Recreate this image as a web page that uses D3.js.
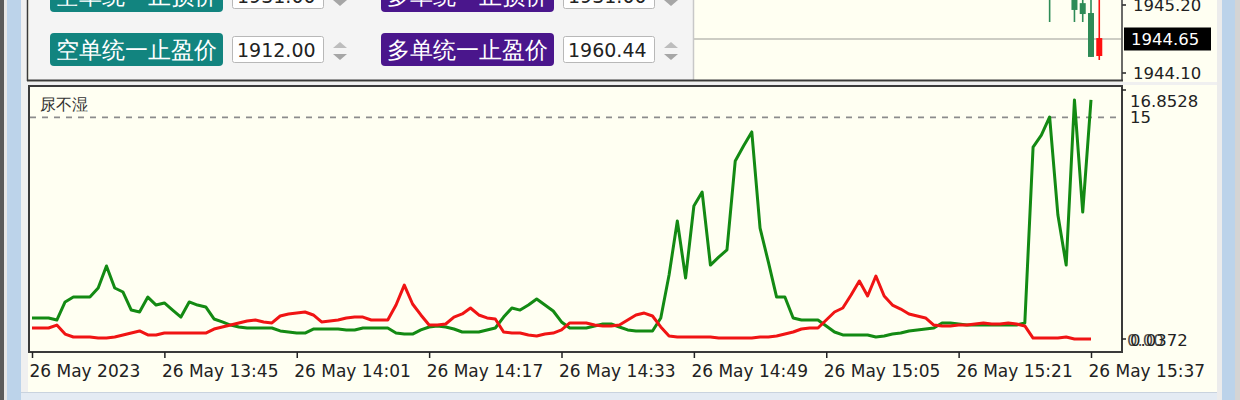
<!DOCTYPE html>
<html><head><meta charset="utf-8">
<script src="https://cdn.jsdelivr.net/npm/d3@7"></script>
<style>
html,body{margin:0;padding:0;background:#f0f0f0;overflow:hidden}
svg{display:block}
text{font-family:"DejaVu Sans",sans-serif}
</style></head><body>
<svg id="c" width="1240" height="400"></svg>
<script>
// ---------------- DATA ----------------
const startTime = new Date(2023, 4, 26, 13, 29);   // first bar (minute 0)
const greenValues = [
 1.46,1.46,1.46,1.32,2.54,2.87,2.87,2.87,3.48,4.97,
 3.48,3.21,1.99,1.86,2.87,2.33,2.47,1.99,1.52,2.54,
 2.33,2.20,1.39,1.19,0.98,0.85,0.78,0.78,0.78,0.78,
 0.58,0.51,0.44,0.44,0.71,0.71,0.71,0.71,0.65,0.65,
 0.78,0.78,0.78,0.78,0.44,0.37,0.37,0.65,0.85,0.92,
 0.85,0.71,0.51,0.51,0.51,0.65,0.78,1.52,2.13,1.99,
 2.33,2.74,2.33,1.93,1.19,0.78,0.78,0.78,0.92,1.05,
 1.05,0.85,0.65,0.58,0.58,0.58,1.46,4.36,8.01,4.16,
 9.02,9.96,5.03,5.57,6.05,12.06,13.07,14.02,7.53,5.24,
 2.87,2.87,1.46,1.32,1.32,1.32,0.92,0.51,0.31,0.31,
 0.31,0.31,0.17,0.24,0.37,0.44,0.58,0.65,0.71,0.78,
 1.12,1.12,1.05,0.98,0.98,0.98,0.98,0.98,0.98,0.98,
 1.12,13.00,13.81,15.03,8.41,5.03,16.18,8.61,16.18
];
const redValues = [
 0.78,0.78,0.78,0.98,0.37,0.17,0.17,0.17,0.10,0.10,
 0.17,0.31,0.44,0.58,0.31,0.31,0.44,0.44,0.44,0.44,
 0.44,0.44,0.71,0.85,0.98,1.12,1.25,1.32,1.19,1.12,
 1.59,1.73,1.79,1.86,1.66,1.19,1.25,1.32,1.46,1.52,
 1.52,1.32,1.32,1.32,2.33,3.68,2.40,1.66,0.98,0.98,
 1.05,1.52,1.73,2.13,1.66,1.46,1.39,0.51,0.44,0.44,
 0.31,0.24,0.37,0.44,0.65,1.12,1.12,1.12,0.98,0.92,
 0.92,0.98,1.32,1.66,1.79,1.59,0.85,0.24,0.17,0.17,
 0.17,0.17,0.17,0.10,0.10,0.10,0.10,0.10,0.17,0.17,
 0.24,0.37,0.51,0.71,0.78,0.78,1.32,1.86,2.13,3.01,
 3.95,2.94,4.29,2.94,2.33,2.06,1.73,1.59,1.46,0.98,
 0.92,0.92,0.98,0.98,1.05,1.12,1.05,1.05,1.12,1.05,
 0.92,0.10,0.10,0.10,0.10,0.17,0.0372,0.0372,0.0372
];
const tickMinutes = [0,16,32,48,64,80,96,112,128];
const tickLabels = ["26 May 2023","26 May 13:45","26 May 14:01","26 May 14:17",
  "26 May 14:33","26 May 14:49","26 May 15:05","26 May 15:21","26 May 15:37"];
const indicatorName = "尿不湿";
const levelValue = 15;
const subMax = 16.8528, subMin = 0.0372;
const subAxisLabels = ["16.8528","15","0.0372"];

// main chart candles (minute index, OHLC)
const candleMinutes = [123,124,125,126,127,128,129];
const candleOpen  = [1945.40,1945.45,1945.50,1945.12,1945.054,1944.36,1944.665];
const candleHigh  = [1945.50,1945.60,1945.60,1945.45,1945.35,1945.35,1945.35];
const candleLow   = [1944.925,1945.35,1945.40,1944.925,1944.925,1944.36,1944.31];
const candleClose = [1945.45,1945.55,1945.55,1945.40,1945.23,1945.07,1944.375];
const priceTickValues = [1945.20, 1944.10];
const priceTickLabels = ["1945.20","1944.10"];
const currentPrice = 1944.65;

// panel controls
const sellLabels = ["空单统一止损价","空单统一止盈价"];
const sellValues = ["1931.00","1912.00"];
const buyLabels  = ["多单统一止损价","多单统一止盈价"];
const buyValues  = ["1931.00","1960.44"];

// ---------------- DRAW ----------------
const svg = d3.select("#c");
const C = {bg:"#fffff2", frame:"#3a3a3a", green:"#138a13", red:"#f01414",
           teal:"#12847f", purple:"#4a168c", candleUp:"#2e8b57", candleDn:"#ff1010"};

const times = greenValues.map((d,i)=> new Date(startTime.getTime()+i*60000));
const x = d3.scaleTime()
  .domain([startTime, new Date(startTime.getTime()+128*60000)])
  .range([32, 1091]);
const xm = m => x(new Date(startTime.getTime()+m*60000));

// window background pieces
svg.append("rect").attr("x",0).attr("y",0).attr("width",1240).attr("height",400).attr("fill",C.bg);
// left frame
svg.append("rect").attr("x",0).attr("y",0).attr("width",4).attr("height",400).attr("fill","#5a5a5a");
svg.append("rect").attr("x",4).attr("y",0).attr("width",3).attr("height",400).attr("fill","#e6e6e6");
svg.append("rect").attr("x",7).attr("y",0).attr("width",14).attr("height",400).attr("fill","#bcd3ea");
svg.append("rect").attr("x",21).attr("y",0).attr("width",7).attr("height",400).attr("fill","#f0f0f0");
// right frame
svg.append("rect").attr("x",1217).attr("y",0).attr("width",5).attr("height",400).attr("fill","#ececec");
svg.append("rect").attr("x",1222).attr("y",0).attr("width",13).attr("height",400).attr("fill","#bcd3ea");
svg.append("rect").attr("x",1235).attr("y",0).attr("width",5).attr("height",400).attr("fill","#d4d4d4");
// bottom frame
svg.append("rect").attr("x",21).attr("y",392).attr("width",1196).attr("height",8).attr("fill","#e4ebf3");
svg.append("line").attr("x1",21).attr("x2",1217).attr("y1",392.5).attr("y2",392.5).attr("stroke","#c9d3de");

// ---- top main chart ----
const priceY = d3.scaleLinear().domain([1944.10,1945.20]).range([73,5]);
svg.append("defs").append("clipPath").attr("id","mainClip")
  .append("rect").attr("x",694).attr("y",0).attr("width",427).attr("height",80);
svg.select("defs").append("clipPath").attr("id","subClip")
  .append("rect").attr("x",30).attr("y",87).attr("width",1091).attr("height",264);

svg.append("line").attr("x1",694).attr("x2",1121).attr("y1",priceY(currentPrice)).attr("y2",priceY(currentPrice))
  .attr("stroke","#bdbdb5").attr("stroke-width",1.5);

const cg = svg.append("g").attr("clip-path","url(#mainClip)");
candleMinutes.forEach((m,i)=>{
  const up = candleClose[i] >= candleOpen[i];
  const col = up ? C.candleUp : C.candleDn;
  const cx = xm(m);
  cg.append("line").attr("x1",cx).attr("x2",cx)
    .attr("y1",priceY(candleHigh[i])).attr("y2",priceY(candleLow[i]))
    .attr("stroke",col).attr("stroke-width",1.6);
  const y0 = priceY(Math.max(candleOpen[i],candleClose[i]));
  const y1 = priceY(Math.min(candleOpen[i],candleClose[i]));
  cg.append("rect").attr("x",cx-3).attr("y",y0).attr("width",6).attr("height",Math.max(1,y1-y0)).attr("fill",col);
});

// price axis
priceTickValues.forEach((v,i)=>{
  svg.append("line").attr("x1",1122).attr("x2",1126).attr("y1",priceY(v)).attr("y2",priceY(v)).attr("stroke","#222").attr("stroke-width",1.5);
  svg.append("text").attr("x",1133).attr("y",priceY(v)+6).attr("font-size",16.5).attr("fill","#222").text(priceTickLabels[i]);
});
svg.append("rect").attr("x",1124).attr("y",priceY(currentPrice)-11.5).attr("width",87).attr("height",23).attr("fill","#000");
svg.append("text").attr("x",1131).attr("y",priceY(currentPrice)+6).attr("font-size",16.5).attr("fill","#fff").text(currentPrice.toFixed(2));

// control panel
svg.append("rect").attr("x",29).attr("y",0).attr("width",664).attr("height",80).attr("fill","#f4f4f4");
svg.append("line").attr("x1",693.5).attr("x2",693.5).attr("y1",0).attr("y2",80).attr("stroke","#c8c8c8").attr("stroke-width",1.5);

function control(bx, rowTop, label, value, color){
  svg.append("rect").attr("x",bx).attr("y",rowTop).attr("width",173).attr("height",33).attr("rx",4).attr("fill",color);
  svg.append("text").attr("x",bx+86.5).attr("y",rowTop+25).attr("text-anchor","middle")
    .attr("font-family","'Noto Sans CJK SC',sans-serif").attr("font-size",22.5).attr("fill","#fff").text(label);
  const ix = bx+182;
  svg.append("rect").attr("x",ix+0.5).attr("y",rowTop+3.5).attr("width",91).attr("height",26).attr("rx",2)
    .attr("fill","#fff").attr("stroke","#b8b8b8");
  svg.append("text").attr("x",ix+5).attr("y",rowTop+24).attr("font-size",19).attr("fill","#222").text(value);
  const sx = ix+108;
  svg.append("path").attr("d",`M${sx-7},${rowTop+15} L${sx},${rowTop+9} L${sx+7},${rowTop+15} Z`).attr("fill","#bdbdbd");
  svg.append("path").attr("d",`M${sx-7},${rowTop+21} L${sx},${rowTop+27} L${sx+7},${rowTop+21} Z`).attr("fill","#a6a6a6");
}
const rowTops = [-21, 33];
rowTops.forEach((rt,i)=>{
  control(50, rt, sellLabels[i], sellValues[i], C.teal);
  control(381, rt, buyLabels[i], buyValues[i], C.purple);
});

// main chart frame
svg.append("line").attr("x1",27).attr("x2",1123).attr("y1",80.5).attr("y2",80.5).attr("stroke",C.frame).attr("stroke-width",2);
svg.append("line").attr("x1",27.5).attr("x2",27.5).attr("y1",0).attr("y2",81).attr("stroke",C.frame).attr("stroke-width",1.5);
svg.append("line").attr("x1",1122).attr("x2",1122).attr("y1",0).attr("y2",81).attr("stroke",C.frame).attr("stroke-width",1.5);
svg.append("rect").attr("x",21).attr("y",82).attr("width",1196).attr("height",3).attr("fill","#f0f0f0");

// ---- indicator sub window ----
const y = d3.scaleLinear().domain([subMin, subMax]).range([339, 90]);

svg.append("line").attr("x1",30).attr("x2",1121).attr("y1",y(levelValue)).attr("y2",y(levelValue))
  .attr("stroke","#8c8c8c").attr("stroke-width",1.8).attr("stroke-dasharray","6,6");

const line = d3.line().x((d,i)=>x(times[i])).y(d=>y(d));
const lg = svg.append("g").attr("clip-path","url(#subClip)");
lg.append("path").datum(greenValues).attr("d",line).attr("fill","none")
  .attr("stroke",C.green).attr("stroke-width",3).attr("stroke-linejoin","round");
lg.append("path").datum(redValues).attr("d",line).attr("fill","none")
  .attr("stroke",C.red).attr("stroke-width",3).attr("stroke-linejoin","round");

svg.append("text").attr("x",40).attr("y",110).attr("font-family","'Noto Sans CJK SC',sans-serif")
  .attr("font-size",16).attr("fill","#333").text(indicatorName);

// frame
svg.append("rect").attr("x",29).attr("y",86).attr("width",1093).attr("height",266)
  .attr("fill","none").attr("stroke",C.frame).attr("stroke-width",2);

// right axis labels
[[subMax,1122],[subMin,1122]].forEach(([v])=>{
  svg.append("line").attr("x1",1122).attr("x2",1126).attr("y1",y(v)).attr("y2",y(v)).attr("stroke","#222").attr("stroke-width",1.5);
});
svg.append("text").attr("x",1130).attr("y",y(subMax)+17).attr("font-size",16.5).attr("fill","#222").text(subAxisLabels[0]);
svg.append("text").attr("x",1130).attr("y",y(levelValue)+6).attr("font-size",16.5).attr("fill","#222").text(subAxisLabels[1]);
svg.append("text").attr("x",1130).attr("y",y(subMin)+7).attr("font-size",16.5).attr("fill","#222").text(subAxisLabels[2]);
svg.append("text").attr("x",1127).attr("y",y(subMin)+7).attr("font-size",16.5).attr("fill","#222").attr("opacity",0.8).text("0.00");

// time axis
const xAxis = d3.axisBottom(x)
  .tickValues(tickMinutes.map(m=>new Date(startTime.getTime()+m*60000)))
  .tickFormat((d,i)=>tickLabels[i])
  .tickSize(6).tickSizeOuter(0);
const ax = svg.append("g").attr("transform","translate(0,352)").call(xAxis);
ax.select(".domain").remove();
ax.selectAll(".tick line").attr("stroke","#222").attr("stroke-width",1.5);
ax.selectAll(".tick text").attr("text-anchor","start").attr("dx",-3).attr("y",13)
  .attr("font-family","'DejaVu Sans',sans-serif").attr("font-size",17).attr("fill","#222");
</script>
</body></html>
